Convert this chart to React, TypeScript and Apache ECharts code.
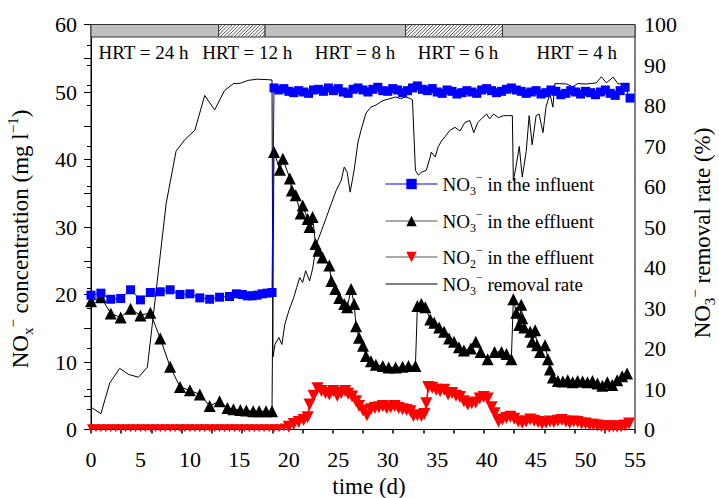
import React, { useEffect, useRef } from "react";
import * as echarts from "echarts";

const FONT = "Liberation Serif";

// x tick labels (days)
const xTickValues = [0, 5, 10, 15, 20, 25, 30, 35, 40, 45, 50, 55];

// HRT phases: [start day, end day, hatched(1) / grey(0)]
const hrtPhases = [
  [0, 12.9, 0],
  [12.9, 17.6, 1],
  [17.6, 31.8, 0],
  [31.8, 41.6, 1],
  [41.6, 55, 0],
];
const hrtLabels = ["HRT = 24 h", "HRT = 12 h", "HRT = 8 h", "HRT = 6 h", "HRT = 4 h"];
const hrtLabelPos = [
  [5.3, 55.8],
  [15.8, 55.8],
  [26.7, 55.8],
  [37.1, 55.8],
  [49.1, 55.8],
];

// NO3- in the influent (mg/l)
const no3Influent = [
  [0, 19.9], [1, 20.2], [2, 19.3], [3, 19.4], [4, 20.7], [5, 19.2], [6, 20.3], [7, 20.4],
  [8, 20.7], [9, 20.0], [10, 20.1], [11, 19.5], [12, 19.3], [13, 19.6], [14, 19.7],
  [14.7, 20.1], [15.3, 20.0], [15.8, 19.8], [16.3, 19.8], [16.8, 19.9], [17.3, 20.1],
  [17.8, 20.2], [18.3, 20.3],
  [18.5, 50.6], [19.0, 50.3], [19.5, 50.5], [20.0, 50.1], [20.5, 49.9], [21.0, 50.2],
  [21.5, 50.0], [22.0, 49.8], [22.5, 50.3], [23.0, 50.4], [23.5, 50.1], [24.0, 50.6],
  [24.5, 50.2], [25.0, 50.5], [25.5, 50.0], [26.0, 49.8], [26.5, 50.4], [27.0, 50.6],
  [27.5, 50.3], [28.0, 50.0], [28.5, 50.4], [29.0, 50.7], [29.5, 50.2], [30.0, 50.1],
  [30.5, 50.5], [31.0, 50.3], [31.5, 49.9], [32.0, 50.2], [32.5, 50.6], [33.0, 50.9],
  [33.5, 50.4], [34.0, 50.2], [34.5, 50.5], [35.0, 50.0], [35.5, 49.8], [36.0, 50.3],
  [36.5, 50.1], [37.0, 49.7], [37.5, 49.9], [38.0, 50.2], [38.5, 50.0], [39.0, 49.8],
  [39.5, 50.3], [40.0, 50.5], [40.5, 50.2], [41.0, 49.9], [41.5, 50.1], [42.0, 50.4],
  [42.5, 50.6], [43.0, 50.3], [43.5, 50.1], [44.0, 49.8], [44.5, 50.0], [45.0, 50.2],
  [45.5, 49.7], [46.0, 49.9], [46.5, 50.3], [47.0, 50.1], [47.5, 49.6], [48.0, 49.8],
  [48.5, 50.2], [49.0, 50.0], [49.5, 49.7], [50.0, 50.1], [50.5, 49.9], [51.0, 49.6],
  [51.5, 50.0], [52.0, 50.3], [52.5, 49.8], [53.0, 49.5], [53.5, 50.2], [54.0, 50.7],
  [54.5, 49.1],
];

// NO3- in the effluent (mg/l)
const no3Effluent = [
  [0, 19.0], [1, 19.6], [2, 17.2], [3, 16.6], [4, 17.9], [5, 16.9], [6, 17.3], [7, 13.5],
  [8, 9.3], [9, 6.3], [10, 5.8], [11, 5.2], [12, 3.5], [13, 4.2], [13.8, 3.2], [14.4, 3.0],
  [15.1, 2.9], [15.7, 2.8], [16.4, 2.7], [17.0, 2.7], [17.7, 2.7], [18.3, 2.7],
  [18.5, 41.1], [19.1, 38.5], [19.4, 40.1], [20.1, 37.2], [20.3, 35.4], [20.7, 34.7],
  [21.2, 32.0], [21.4, 33.2], [21.9, 31.2], [22.1, 30.0], [22.4, 31.5], [22.7, 27.5],
  [23.0, 26.5], [23.4, 25.5], [24.1, 24.3], [24.3, 22.0], [24.7, 20.8], [25.1, 19.5],
  [25.6, 18.6], [25.9, 18.1], [26.3, 20.8], [26.6, 18.6], [26.8, 15.3], [27.1, 13.6],
  [27.5, 12.4], [27.8, 10.9], [28.3, 10.1], [28.8, 9.6], [29.5, 9.4], [30.1, 9.2],
  [30.8, 9.2], [31.5, 9.3], [32.1, 9.4], [32.8, 9.4],
  [33.0, 18.3], [33.4, 18.6], [33.8, 18.1], [34.3, 16.3], [34.7, 15.8], [35.2, 15.1],
  [35.7, 14.5], [36.2, 13.5], [36.7, 13.0], [37.2, 12.2], [37.7, 11.7], [38.4, 12.0],
  [38.9, 13.0], [39.4, 11.5], [40.1, 10.4], [40.8, 11.5], [41.5, 11.5], [42.0, 11.2],
  [42.5, 10.4],
  [42.7, 19.3], [43.0, 17.3], [43.3, 15.5], [43.5, 18.5], [43.6, 16.5], [43.8, 15.1],
  [44.4, 14.5], [44.6, 13.0], [44.9, 14.7], [45.1, 12.5], [45.4, 11.5], [45.9, 12.5],
  [46.2, 10.4], [46.4, 8.9], [46.7, 7.7], [47.2, 7.2], [47.7, 7.1], [48.2, 7.3],
  [48.7, 7.0], [49.2, 7.2], [49.7, 7.1], [50.2, 7.0], [50.7, 7.2], [51.2, 6.8],
  [51.7, 6.5], [52.2, 7.0], [52.7, 6.6], [53.2, 7.3], [53.7, 7.9], [54.2, 8.3],
];

// NO2- in the effluent (mg/l)
const no2Effluent = [
  [0, 0.2], [0.5, 0.2], [1, 0.2], [1.5, 0.2], [2, 0.2], [2.5, 0.2], [3, 0.2], [3.5, 0.2],
  [4, 0.2], [4.5, 0.2], [5, 0.2], [5.5, 0.2], [6, 0.2], [6.5, 0.2], [7, 0.2], [7.5, 0.2],
  [8, 0.2], [8.5, 0.2], [9, 0.2], [9.5, 0.2], [10, 0.2], [10.5, 0.2], [11, 0.2], [11.5, 0.2],
  [12, 0.2], [12.5, 0.2], [13, 0.2], [13.5, 0.2], [14, 0.2], [14.5, 0.2], [15, 0.2],
  [15.5, 0.2], [16, 0.2], [16.5, 0.2], [17, 0.2], [17.5, 0.2], [18, 0.2], [18.5, 0.2],
  [19, 0.2], [19.5, 0.3],
  [20.0, 0.4], [20.5, 0.8], [21.0, 1.1], [21.5, 1.4], [21.9, 1.8], [22.1, 3.7], [22.5, 5.0],
  [22.9, 6.1], [23.3, 5.7], [23.7, 5.4], [24.1, 5.2], [24.5, 5.7], [24.9, 5.0], [25.3, 5.4],
  [25.7, 5.7], [26.0, 5.3], [26.4, 4.9], [26.8, 4.2], [27.1, 3.5], [27.5, 2.8], [27.9, 2.1],
  [28.3, 3.0], [28.7, 3.2], [29.1, 3.3], [29.5, 3.5], [29.9, 3.2], [30.3, 3.3], [30.7, 3.5],
  [31.1, 3.2], [31.5, 3.0], [31.9, 2.9], [32.3, 2.7], [32.6, 2.0], [33.0, 2.1], [33.4, 2.0],
  [33.7, 2.3], [33.9, 3.9], [34.1, 6.3], [34.5, 6.2], [34.9, 5.9], [35.3, 5.7], [35.7, 5.9],
  [36.1, 5.2], [36.5, 5.4], [36.9, 5.0], [37.3, 4.8], [37.7, 4.2], [38.1, 3.7], [38.5, 3.9],
  [38.9, 4.0], [39.3, 4.6], [39.7, 4.8], [40.1, 4.6], [40.5, 3.3], [40.8, 2.4], [41.2, 1.2],
  [41.6, 1.5], [42.0, 1.7], [42.4, 1.9], [42.8, 1.6], [43.2, 1.2], [43.6, 1.0], [44.0, 1.2],
  [44.4, 1.5], [44.8, 1.3], [45.2, 1.1], [45.6, 0.9], [46.0, 1.0], [46.4, 1.2], [46.8, 1.1],
  [47.2, 1.3], [47.6, 1.4], [48.0, 1.2], [48.4, 1.0], [48.8, 1.2], [49.2, 1.1], [49.6, 0.9],
  [50.0, 0.9], [50.4, 0.7], [50.8, 0.7], [51.2, 0.6], [51.6, 0.5], [52.0, 0.5], [52.4, 0.4],
  [52.8, 0.5], [53.2, 0.4], [53.6, 0.5], [54.0, 0.6], [54.4, 0.9],
];

// NO3- removal rate (%)
const removalRate = [
  [0, 5.5], [1, 3.9], [1.9, 11.5], [2.9, 15.1], [3.8, 13.6], [4.8, 12.9], [5.7, 15.4],
  [6.7, 36.7], [7.6, 55.8], [8.6, 68.7], [9.5, 71.6], [10.5, 73.9], [11.5, 82.5],
  [12.5, 78.9], [13.5, 83.7], [14.4, 85.4], [15.1, 85.5], [15.9, 86.2], [16.8, 86.5],
  [17.7, 86.4], [18.3, 86.3], [18.4, 17.9], [18.6, 21.0], [19.0, 22.7], [19.3, 21.0],
  [19.6, 26.0], [20.0, 29.3], [20.5, 32.6], [20.8, 35.1], [21.1, 37.5], [21.4, 36.3],
  [21.7, 39.2], [22.1, 36.7], [22.4, 39.6], [22.8, 45.8], [23.3, 49.1], [23.8, 52.4],
  [24.3, 55.8], [24.8, 59.1], [25.3, 61.5], [25.6, 64.8], [25.9, 63.5], [26.2, 58.6],
  [26.6, 64.0], [27.0, 71.0], [27.3, 73.9], [27.8, 78.1], [28.3, 79.6], [28.8, 80.1],
  [29.5, 81.2], [30.1, 81.6], [30.8, 82.1], [31.3, 81.7], [31.8, 82.1], [32.3, 81.7],
  [32.5, 81.4], [32.8, 64.0], [33.1, 62.8], [33.4, 63.5], [33.9, 64.0], [34.3, 67.3],
  [34.4, 68.5], [34.8, 67.3], [35.1, 69.8], [35.5, 71.5], [35.8, 72.3], [36.3, 73.9],
  [36.8, 74.6], [37.3, 73.7], [37.8, 75.8], [38.3, 76.3], [38.7, 73.3], [39.1, 75.8],
  [39.6, 77.0], [40.0, 77.9], [40.3, 76.7], [40.7, 77.9], [41.2, 77.0], [41.7, 77.5],
  [42.2, 77.5], [42.6, 77.5], [42.7, 61.5], [43.0, 65.3], [43.3, 69.9], [43.6, 62.3],
  [44.0, 68.6], [44.3, 77.5], [44.6, 70.3], [45.0, 77.5], [45.3, 77.9], [45.7, 73.3],
  [46.0, 79.6], [46.4, 82.9], [46.7, 79.6], [46.9, 85.4], [47.4, 85.4], [48.1, 85.3],
  [48.7, 84.6], [49.2, 85.4], [50.1, 85.3], [51.1, 85.6], [51.6, 87.1], [52.1, 85.6],
  [52.8, 87.0], [53.3, 85.3], [53.6, 85.4], [54.2, 83.4],
];

const seriesNames = [
  "NO3- in the influent",
  "NO3- in the effluent",
  "NO2- in the effluent",
  "NO3- removal rate",
];
const legendRich = [
  "{n|NO}{sub|3}{sup|\u2212}{n| in the influent}",
  "{n|NO}{sub|3}{sup|\u2212}{n| in the effluent}",
  "{n|NO}{sub|2}{sup|\u2212}{n| in the effluent}",
  "{n|NO}{sub|3}{sup|\u2212}{n| removal rate}",
];

function richStyles(base: number, small: number, lh: number) {
  return {
    n: { fontSize: base, fontFamily: FONT, color: "#000", lineHeight: lh },
    sub: { fontSize: small, fontFamily: FONT, color: "#000", verticalAlign: "bottom", lineHeight: small },
    sup: { fontSize: small, fontFamily: FONT, color: "#000", verticalAlign: "top", lineHeight: small },
  };
}

const HRT_TOP = 60;
const HRT_BOTTOM = 58.15;

export default function App() {
  const ref = useRef<HTMLDivElement>(null);
  useEffect(() => {
    if (!ref.current) return;
    const chart = echarts.init(ref.current, null, { renderer: "svg" });
    const legendTops = [171, 208, 244, 271];
    const legendLineColors = ["#0000ff", "#555", "#555", "#000"];
    const option: any = {
      animation: false,
      backgroundColor: "#fff",
      grid: {
        left: 91,
        right: 84,
        top: 24.5,
        bottom: 68.5,
        containLabel: false,
        outerBoundsMode: "none",
        show: true,
        borderColor: "#000",
        borderWidth: 1,
        backgroundColor: "transparent",
      },
      legend: seriesNames.map((name, i) => ({
        data: [
          i === 3
            ? { name, lineStyle: { color: legendLineColors[i], width: 1 }, itemStyle: { opacity: 0 } }
            : { name, lineStyle: { color: legendLineColors[i], width: 1 } },
        ],
        orient: "vertical",
        left: 385,
        top: legendTops[i],
        itemWidth: 52,
        itemHeight: 13,
        padding: 0,
        formatter: () => legendRich[i],
        textStyle: { fontFamily: FONT, fontSize: 19, color: "#000", rich: richStyles(19, 12, 26) },
      })),
      xAxis: [
        {
          type: "value",
          min: 0,
          max: 55,
          interval: 5,
          name: "time (d)",
          nameLocation: "middle",
          nameGap: 44,
          nameTextStyle: { fontFamily: FONT, fontSize: 23, color: "#000", padding: [0, 0, 0, 12] },
          axisLine: { show: true, lineStyle: { color: "#000", width: 1 } },
          axisTick: { show: false },
          axisLabel: {
            fontFamily: FONT,
            fontSize: 22,
            color: "#000",
            margin: 19,
            formatter: (v: number) => (xTickValues.includes(v) ? String(v) : ""),
          },
          splitLine: { show: false },
        },
        {
          type: "value",
          min: 0,
          max: 18,
          interval: 1,
          position: "bottom",
          axisLine: { show: false },
          axisTick: { show: true, inside: false, length: 4, lineStyle: { color: "#000", width: 1.5 } },
          axisLabel: { show: false },
          splitLine: { show: false },
        },
      ],
      yAxis: [
        {
          type: "value",
          min: 0,
          max: 60,
          interval: 5,
          name: "{n|NO}{sub|x}{sup|\u2212}{n| concentration (mg l}{sup|\u22121}{n|)}",
          nameLocation: "middle",
          nameRotate: 90,
          nameGap: 56,
          nameTextStyle: {
            fontFamily: FONT,
            fontSize: 23,
            color: "#000",
            padding: [0, 24, 0, 0],
            rich: richStyles(23, 15, 30),
          },
          axisLine: { show: true, lineStyle: { color: "#000", width: 1 } },
          axisTick: { show: true, inside: false, length: 7, lineStyle: { color: "#000", width: 1 } },
          axisLabel: {
            fontFamily: FONT,
            fontSize: 22,
            color: "#000",
            margin: 14,
            formatter: (v: number) => (v % 10 === 0 ? String(v) : ""),
          },
          splitLine: { show: false },
        },
        {
          type: "value",
          min: 0,
          max: 100,
          interval: 5,
          position: "right",
          name: "{n|NO}{sub|3}{sup|\u2212}{n| removal rate (%)}",
          nameLocation: "middle",
          nameRotate: 90,
          nameGap: 51,
          nameTextStyle: {
            fontFamily: FONT,
            fontSize: 23,
            color: "#000",
            padding: [0, 12, 0, 0],
            rich: richStyles(23, 15, 30),
          },
          axisLine: { show: true, lineStyle: { color: "#000", width: 1 } },
          axisTick: { show: true, inside: true, length: 4, lineStyle: { color: "#000", width: 1 } },
          axisLabel: {
            fontFamily: FONT,
            fontSize: 22,
            color: "#000",
            margin: 9,
            formatter: (v: number) => (v % 10 === 0 ? String(v) : ""),
          },
          splitLine: { show: false },
        },
      ],
      series: [
        {
          name: seriesNames[3],
          type: "line",
          yAxisIndex: 1,
          data: removalRate,
          symbol: "none",
          lineStyle: { color: "#000", width: 1 },
          itemStyle: { color: "#000" },
          z: 2,
        },
        {
          name: seriesNames[2],
          type: "line",
          data: no2Effluent,
          symbol: "triangle",
          symbolRotate: 180,
          symbolSize: (v: number[]) => (v[0] < 20 ? 8 : 12),
          lineStyle: { color: "#ff0000", width: 1.5 },
          itemStyle: { color: "#ff0000" },
          z: 3,
        },
        {
          name: seriesNames[1],
          type: "line",
          data: no3Effluent,
          symbol: "triangle",
          symbolSize: 12,
          lineStyle: { color: "#000", width: 1 },
          itemStyle: { color: "#000" },
          z: 4,
        },
        {
          name: seriesNames[0],
          type: "line",
          data: no3Influent,
          symbol: "rect",
          symbolSize: 9,
          lineStyle: { color: "#0000ff", width: 1 },
          itemStyle: { color: "#0000ff" },
          z: 5,
        },
        {
          type: "custom",
          data: hrtPhases,
          encode: { x: [0, 1], y: 2 },
          silent: true,
          z: 6,
          renderItem: (params: any, api: any) => {
            const s = api.value(0);
            const e = api.value(1);
            const h = api.value(2);
            const p0 = api.coord([s, HRT_TOP]);
            const p1 = api.coord([e, HRT_BOTTOM]);
            const x0 = p0[0], y0 = p0[1], x1 = p1[0], y1 = p1[1];
            const H = y1 - y0;
            const children: any[] = [
              { type: "rect", shape: { x: x0, y: y0, width: x1 - x0, height: H }, style: { fill: h ? "#fff" : "#c0c0c0" } },
            ];
            if (h) {
              for (let x = x0 - H; x < x1; x += 3.5) {
                let ax = x, ay = y1, bx = x + H, by = y0;
                if (ax < x0) { ay = y1 - (x0 - ax); ax = x0; }
                if (bx > x1) { by = y0 + (bx - x1); bx = x1; }
                if (bx > ax) {
                  children.push({ type: "line", shape: { x1: ax, y1: ay, x2: bx, y2: by }, style: { stroke: "#222", lineWidth: 0.8 } });
                }
              }
            }
            children.push({
              type: "rect",
              shape: { x: x0, y: y0, width: x1 - x0, height: H },
              style: { fill: "none", stroke: "#333", lineWidth: 1 },
            });
            return { type: "group", children };
          },
        },
        {
          type: "custom",
          data: hrtLabelPos,
          encode: { x: 0, y: 1 },
          silent: true,
          z: 6,
          renderItem: (params: any, api: any) => {
            const p = api.coord([api.value(0), api.value(1)]);
            return {
              type: "text",
              x: p[0],
              y: p[1],
              style: {
                text: hrtLabels[params.dataIndex],
                fontFamily: FONT,
                fontSize: 19,
                fill: "#000",
                align: "center",
                verticalAlign: "middle",
              },
            };
          },
        },
      ],
    };
    chart.setOption(option);
    return () => chart.dispose();
  }, []);
  return <div ref={ref} style={{ width: 719, height: 498, position: "absolute", left: 0, top: 0 }} />;
}
